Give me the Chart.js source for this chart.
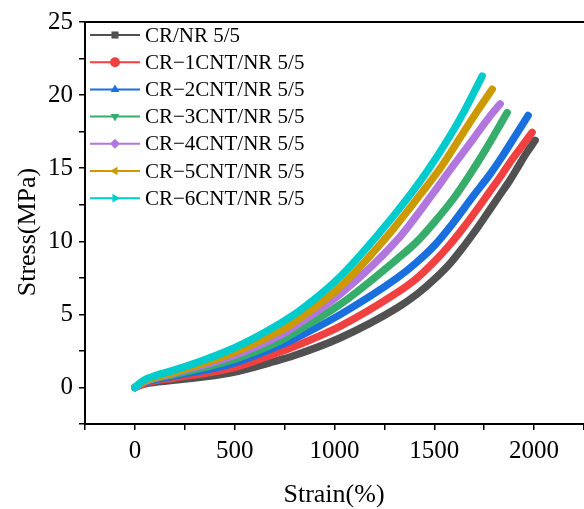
<!DOCTYPE html>
<html>
<head>
<meta charset="utf-8">
<script src="https://cdn.jsdelivr.net/npm/chart.js@4.4.1/dist/chart.umd.min.js"></script>
<style>
  html, body { margin: 0; padding: 0; background: #fff; overflow: hidden; }
  #wrap { width: 590px; height: 509px; }
</style>
</head>
<body>
<div id="wrap"><canvas id="chart_stressStrain"></canvas></div>
<script>
// series labels and colours (Origin default palette)
var seriesLabels = ['CR/NR 5/5', 'CR\u22121CNT/NR 5/5', 'CR\u22122CNT/NR 5/5', 'CR\u22123CNT/NR 5/5',
                    'CR\u22124CNT/NR 5/5', 'CR\u22125CNT/NR 5/5', 'CR\u22126CNT/NR 5/5'];
var seriesColors = ['#515151', '#F14040', '#1A6FDF', '#37AD6B', '#B177DE', '#CC9900', '#00CBCC'];

// strain (%) / stress (MPa)
var strain0 = [0, 50, 200, 480, 730, 780, 1030, 1315, 1415, 1500, 1580, 1650, 1715, 1780, 1830, 1880, 1920, 1960, 2005];
var stress0 = [0, 0.25, 0.5, 1.0, 1.9, 2.1, 3.4, 5.45, 6.4, 7.4, 8.5, 9.7, 10.9, 12.2, 13.2, 14.2, 15.1, 16.0, 16.9];
var strain1 = [0, 50, 200, 480, 730, 780, 1030, 1315, 1415, 1500, 1580, 1650, 1715, 1770, 1840, 1890, 1950, 1990];
var stress1 = [0, 0.3, 0.65, 1.3, 2.45, 2.7, 4.2, 6.5, 7.5, 8.6, 9.8, 11.0, 12.2, 13.25, 14.6, 15.6, 16.7, 17.45];
var strain2 = [0, 50, 200, 480, 730, 780, 1030, 1315, 1415, 1500, 1580, 1695, 1780, 1845, 1910, 1970];
var stress2 = [0, 0.35, 0.8, 1.6, 2.9, 3.2, 5.0, 7.5, 8.6, 9.7, 11.0, 13.1, 14.6, 15.9, 17.3, 18.6];
var strain3 = [0, 50, 200, 480, 730, 780, 1030, 1315, 1415, 1500, 1595, 1680, 1745, 1810, 1865];
var stress3 = [0, 0.4, 0.9, 1.85, 3.2, 3.6, 5.7, 8.8, 10.0, 11.3, 12.9, 14.6, 16.0, 17.5, 18.8];
var strain4 = [0, 50, 200, 480, 730, 780, 1030, 1315, 1495, 1580, 1695, 1770, 1830];
var stress4 = [0, 0.4, 1.0, 2.1, 3.6, 4.0, 6.4, 10.1, 13.3, 14.9, 17.0, 18.4, 19.4];
var strain5 = [0, 50, 200, 480, 730, 780, 1030, 1280, 1430, 1530, 1630, 1720, 1790];
var stress5 = [0, 0.45, 1.05, 2.3, 3.9, 4.3, 6.9, 10.6, 13.2, 15.0, 17.1, 19.0, 20.4];
var strain6 = [0, 30, 60, 200, 350, 480, 600, 730, 830, 1030, 1215, 1380, 1470, 1565, 1650, 1740];
var stress6 = [0, 0.35, 0.6, 1.2, 1.9, 2.6, 3.4, 4.4, 5.3, 7.6, 10.4, 13.2, 14.9, 16.9, 18.9, 21.3];

var strainList = [strain0, strain1, strain2, strain3, strain4, strain5, strain6];
var stressList = [stress0, stress1, stress2, stress3, stress4, stress5, stress6];
var markerStyles = [
  { pointStyle: 'rect', rotation: 0 },
  { pointStyle: 'circle', rotation: 0 },
  { pointStyle: 'triangle', rotation: 0 },
  { pointStyle: 'triangle', rotation: 180 },
  { pointStyle: 'rectRot', rotation: 0 },
  { pointStyle: 'triangle', rotation: -90 },
  { pointStyle: 'triangle', rotation: 90 }
];

var xMin = -250, xMax = 2250, yMin = -2.5, yMax = 25;
var serif = '"Liberation Serif", "Times New Roman", serif';

var datasets = seriesLabels.map(function (label, i) {
  return {
    label: label,
    data: strainList[i].map(function (x, j) { return { x: x, y: stressList[i][j] }; }),
    borderColor: seriesColors[i],
    backgroundColor: seriesColors[i],
    borderWidth: 7.5,
    borderCapStyle: 'round',
    borderJoinStyle: 'round',
    pointRadius: 0,
    cubicInterpolationMode: 'monotone',
    order: seriesLabels.length - 1 - i
  };
});

var chart_stressStrain = new Chart(document.getElementById('chart_stressStrain'), {
  type: 'line',
  data: { datasets: datasets },
  options: {
    animation: false,
    responsive: true,
    maintainAspectRatio: false,
    layout: { padding: { top: 22, right: 0, bottom: 0, left: 0 } },
    plugins: {
      legend: { display: false },
      tooltip: { enabled: false }
    },
    scales: {
      x: {
        type: 'linear',
        min: xMin,
        max: xMax,
        afterFit: function (scale) { scale.height = 85; },
        ticks: {
          stepSize: 250,
          autoSkip: false,
          maxRotation: 0,
          padding: 6,
          color: '#000',
          font: { family: serif, size: 25 },
          callback: function (value) { return value % 500 === 0 ? String(value) : ''; }
        },
        grid: {
          drawOnChartArea: false,
          drawTicks: true,
          tickLength: 6,
          color: '#000',
          lineWidth: 1.5
        },
        border: { display: true, color: '#000', width: 2 }
      },
      y: {
        type: 'linear',
        min: yMin,
        max: yMax,
        afterFit: function (scale) { scale.width = 85; },
        ticks: {
          stepSize: 2.5,
          autoSkip: false,
          padding: 6,
          color: '#000',
          font: { family: serif, size: 25 },
          callback: function (value) { return value % 5 === 0 ? String(value) : ''; }
        },
        grid: {
          drawOnChartArea: false,
          drawTicks: true,
          tickLength: 6,
          color: '#000',
          lineWidth: 1.5
        },
        border: { display: true, color: '#000', width: 2 }
      }
    }
  },
  plugins: [{
    id: 'frameAndText',
    afterDraw: function (chart) {
      var ctx = chart.ctx;
      var area = chart.chartArea;
      ctx.save();
      // top frame line
      ctx.strokeStyle = '#000';
      ctx.lineWidth = 2;
      ctx.beginPath();
      ctx.moveTo(area.left - 1, area.top);
      ctx.lineTo(area.right, area.top);
      ctx.stroke();

      // axis titles
      ctx.fillStyle = '#000';
      ctx.font = '26px ' + serif;
      ctx.textAlign = 'center';
      ctx.textBaseline = 'middle';
      ctx.fillText('Strain(%)', 334, 495);
      ctx.save();
      ctx.translate(28, 232);
      ctx.rotate(-Math.PI / 2);
      ctx.fillText('Stress(MPa)', 0, 0);
      ctx.restore();

      // legend, top-left inside the plot
      ctx.font = '21px ' + serif;
      ctx.textAlign = 'left';
      chart.data.datasets.forEach(function (ds, i) {
        var y = 35 + i * 27.2;
        ctx.strokeStyle = ds.borderColor;
        ctx.lineWidth = 2;
        ctx.beginPath();
        ctx.moveTo(90, y);
        ctx.lineTo(140, y);
        ctx.stroke();
        ctx.fillStyle = ds.borderColor;
        Chart.helpers.drawPoint(ctx, {
          pointStyle: markerStyles[i].pointStyle,
          rotation: markerStyles[i].rotation,
          radius: 5,
          borderWidth: 0
        }, 115, y);
        ctx.fillStyle = '#000';
        ctx.fillText(ds.label, 145, y + 1);
      });
      ctx.restore();
    }
  }]
});
</script>
</body>
</html>
